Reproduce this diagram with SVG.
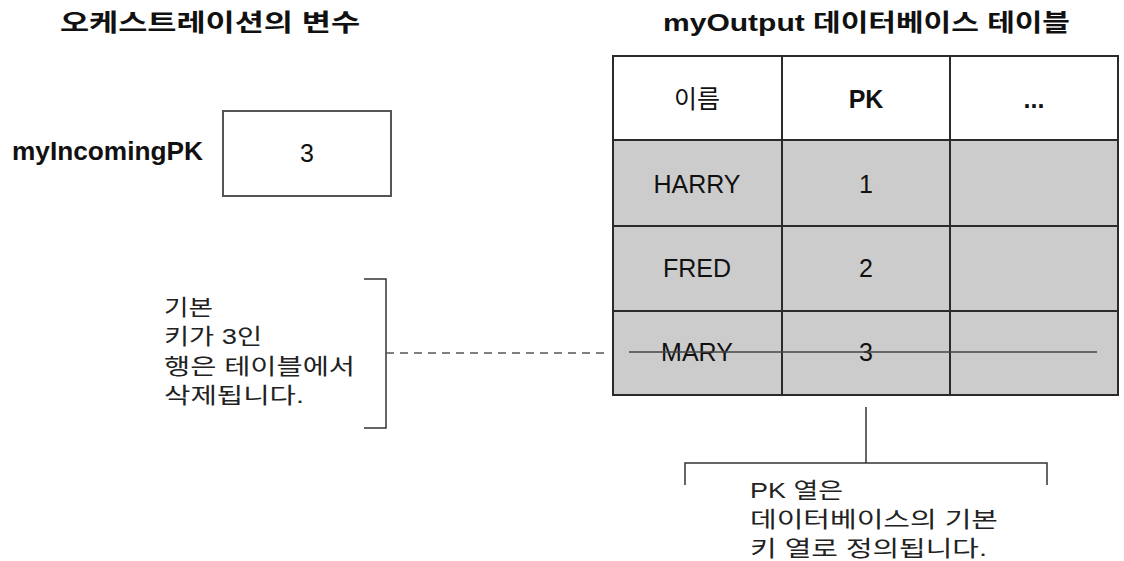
<svg xmlns="http://www.w3.org/2000/svg" width="1124" height="561" viewBox="0 0 1124 561">
<style>
text{font-family:"Liberation Sans","Noto Sans CJK KR",sans-serif;fill:#111}
.title{font-size:24px;font-weight:bold}
.tbl{font-size:25px;text-anchor:middle}
.b{font-weight:bold}
.note{font-size:22px;fill:#222}
.grid{stroke:#2a2a2a;stroke-width:2;fill:none}
.thin{stroke:#333;stroke-width:1.5;fill:none}
</style>
<rect width="1124" height="561" fill="#fff"/>
<g id="title-left"><text class="title" x="60" y="31" textLength="300" lengthAdjust="spacingAndGlyphs">오케스트레이션의 변수</text></g>
<g id="title-right"><text class="title" x="663" y="31" textLength="407" lengthAdjust="spacingAndGlyphs">myOutput 데이터베이스 테이블</text></g>
<g id="variable">
<text x="12" y="160" font-size="25" font-weight="bold" textLength="191" lengthAdjust="spacingAndGlyphs">myIncomingPK</text>
<rect x="223" y="111" width="168" height="85" fill="#fff" stroke="#555" stroke-width="2"/>
<text class="tbl" x="307" y="162">3</text>
</g>
<g id="table">
<rect x="613" y="140" width="505" height="255" fill="#cccccc"/>
<rect x="613" y="56" width="505" height="84" fill="#fff"/>
<rect x="613" y="56" width="505" height="339" class="grid"/>
<path class="grid" d="M613,140H1118M613,226H1118M613,311H1118M782,56V395M950,56V395"/>
<text class="tbl" x="697" y="108">이름</text>
<text class="tbl b" x="866" y="108">PK</text>
<text class="tbl b" x="1034" y="108">...</text>
<text class="tbl" x="697" y="193">HARRY</text>
<text class="tbl" x="866" y="193">1</text>
<text class="tbl" x="697" y="277">FRED</text>
<text class="tbl" x="866" y="277">2</text>
<text class="tbl" x="697" y="361">MARY</text>
<text class="tbl" x="866" y="361">3</text>
<line x1="629" y1="352" x2="1097" y2="352" stroke="#444" stroke-width="1.5"/>
</g>
<g id="note-left">
<text class="note" x="164" y="315" textLength="49" lengthAdjust="spacingAndGlyphs">기본</text>
<text class="note" x="164" y="344" textLength="98" lengthAdjust="spacingAndGlyphs">키가 3인</text>
<text class="note" x="164" y="374" textLength="191" lengthAdjust="spacingAndGlyphs">행은 테이블에서</text>
<text class="note" x="164" y="403" textLength="140" lengthAdjust="spacingAndGlyphs">삭제됩니다.</text>
</g>
<g id="note-bottom">
<text class="note" x="750" y="498" textLength="93" lengthAdjust="spacingAndGlyphs">PK 열은</text>
<text class="note" x="750" y="527" textLength="248" lengthAdjust="spacingAndGlyphs">데이터베이스의 기본</text>
<text class="note" x="750" y="556" textLength="237" lengthAdjust="spacingAndGlyphs">키 열로 정의됩니다.</text>
</g>
<g id="connectors">
<path class="thin" d="M364,279H386V428H364"/>
<line x1="386" y1="353" x2="610" y2="353" stroke="#555" stroke-width="1.5" stroke-dasharray="8,6"/>
<path class="thin" d="M866,407V463M685,485V463H1047V485"/>
</g>
</svg>
